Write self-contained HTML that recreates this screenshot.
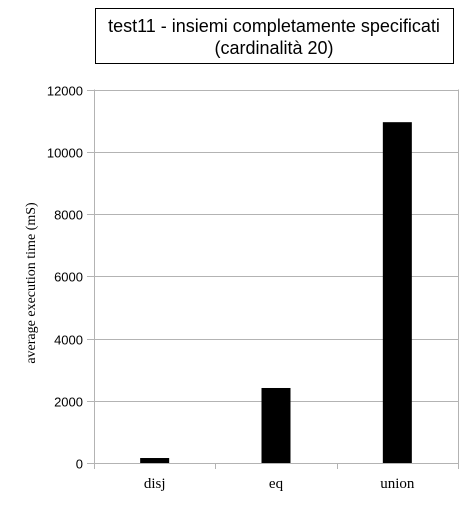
<!DOCTYPE html>
<html><head><meta charset="utf-8"><style>
body{margin:0;background:#fff;width:467px;height:500px;overflow:hidden}
svg text{font-family:"Liberation Sans",sans-serif}
</style></head><body>
<svg id="c" width="467" height="500">
<rect x="95.5" y="8.5" width="358" height="55" fill="#fff" stroke="#000"/>
<text x="274" y="32" text-anchor="middle" font-size="18">test11 - insiemi completamente specificati</text>
<text x="274" y="54" text-anchor="middle" font-size="18">(cardinalità 20)</text>
<text transform="translate(35,283) rotate(-90)" text-anchor="middle" font-size="14" style="font-family:'Liberation Serif',serif">average execution time (mS)</text>
<g id="grid"></g><g id="bars"></g><g id="labels"></g>
</svg>
<script>
const categories=["disj","eq","union"];
const values=[160,2410,10950];
const ticks=[0,2000,4000,6000,8000,10000,12000];
const x0=94,x1=458,y0=463,y1=89.5,ymax=12000;
const ns="http://www.w3.org/2000/svg";
const Y=v=>y0-(v/ymax)*(y0-y1);
const band=(x1-x0)/categories.length;
const X=i=>x0+band*(i+0.5);
function mk(t,a,p){const e=document.createElementNS(ns,t);for(const k in a)e.setAttribute(k,a[k]);p.appendChild(e);return e;}
const g=document.getElementById('grid'),b=document.getElementById('bars'),l=document.getElementById('labels');
ticks.forEach(t=>{const y=Math.round(Y(t))+0.5;
const ln=mk('line',{x1:87,x2:x1,y1:y,y2:y,stroke:'#b3b3b3'},g);


const tx=mk('text',{x:83,y:y+5,'text-anchor':'end','font-size':13},l);tx.textContent=t;

});
const ax=mk('line',{x1:x0+0.5,x2:x0+0.5,y1:y1,y2:y0+6,stroke:'#b3b3b3'},g);


const rx=mk('line',{x1:x1+0.5,x2:x1+0.5,y1:y1,y2:y0+6,stroke:'#b3b3b3'},g);


for(let i=1;i<categories.length;i++){const x=Math.round(x0+band*i)+0.5;
const tk=mk('line',{x1:x,x2:x,y1:y0,y2:y0+6,stroke:'#b3b3b3'},g);

}
categories.forEach((c,i)=>{const w=29,y=Y(values[i]);
const r=mk('rect',{x:X(i)-w/2,y:y,width:w,height:y0-y,fill:'#000'},b);


const t=mk('text',{x:X(i),y:488,'text-anchor':'middle','font-size':15,style:"font-family:'Liberation Serif',serif"},l);t.textContent=c;

});
</script>
</body></html>
